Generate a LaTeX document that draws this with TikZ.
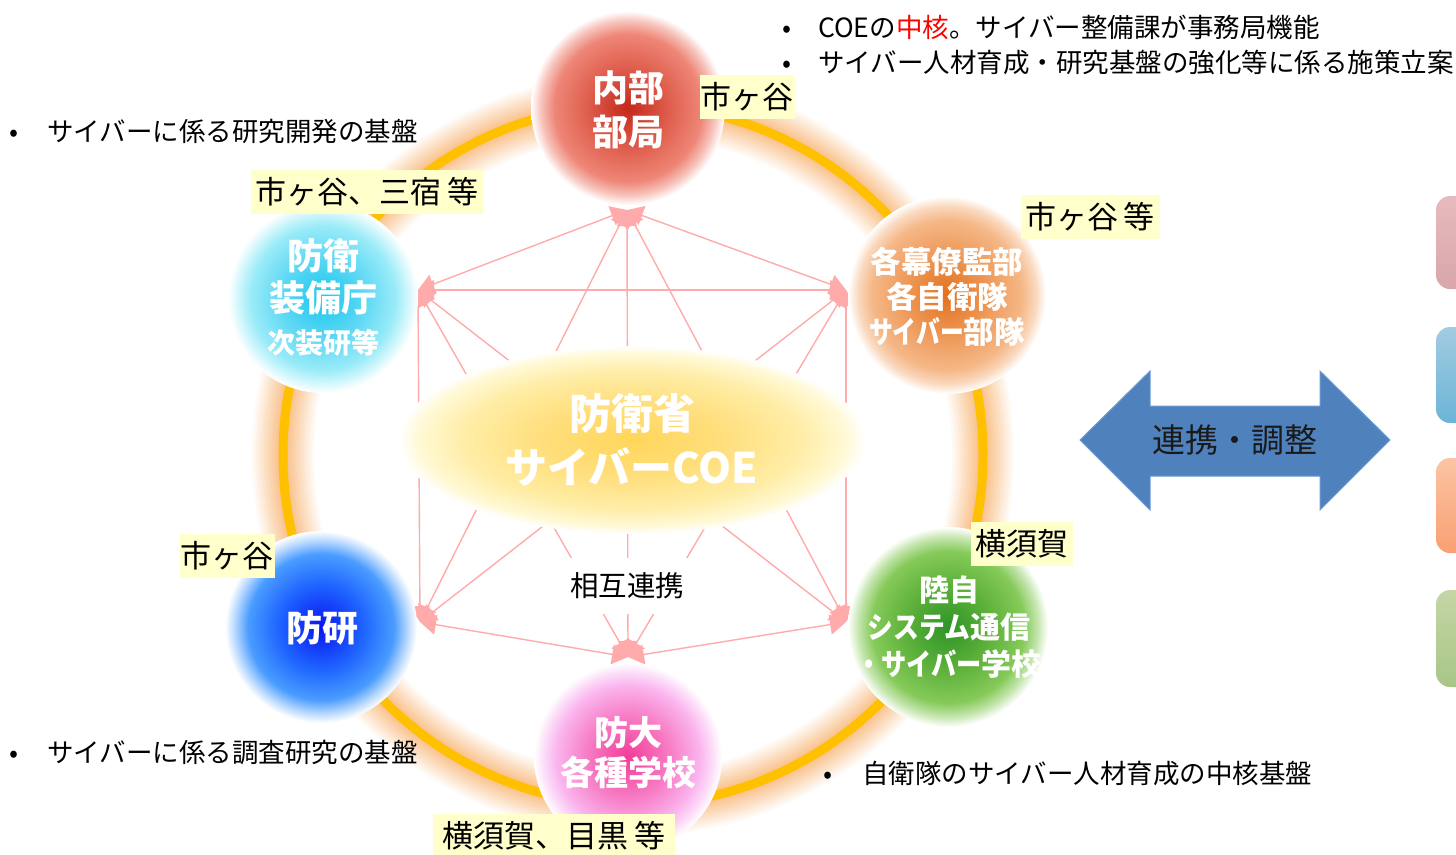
\documentclass[tikz,border=0pt]{standalone}
\usepackage{fontspec}
\usepackage{graphicx}
\setmainfont{Noto Sans CJK JP}
\usetikzlibrary{arrows.meta}
\definecolor{ringc}{HTML}{FFC000}
\definecolor{glow}{HTML}{F9C28C}
\definecolor{pinkln}{HTML}{FFABAB}
\definecolor{lblc}{HTML}{FFFFCC}
\definecolor{arrowblue}{HTML}{4F81BD}
\definecolor{arrowedge}{HTML}{6E9AD2}
\definecolor{txtdark}{HTML}{1A1A1A}
% balls
\definecolor{ra}{HTML}{C3281B}\definecolor{rb}{HTML}{E0604F}\definecolor{rc}{HTML}{EE8677}\definecolor{rd}{HTML}{F7C4BC}
\definecolor{ca}{HTML}{19C6EE}\definecolor{cb}{HTML}{5ED8F4}\definecolor{cc}{HTML}{9AEBF8}\definecolor{cd}{HTML}{D4F7FC}
\definecolor{oa}{HTML}{E2711D}\definecolor{ob}{HTML}{EE9A5A}\definecolor{oc}{HTML}{F5B888}\definecolor{od}{HTML}{FAD9BF}
\definecolor{ba}{HTML}{0A14F0}\definecolor{bb}{HTML}{1E64FF}\definecolor{bc}{HTML}{4A9CFF}\definecolor{bd}{HTML}{B8D8FF}
\definecolor{ga}{HTML}{2E9426}\definecolor{gb}{HTML}{5FB23C}\definecolor{gc}{HTML}{86CA5A}\definecolor{gd}{HTML}{C6E6B0}
\definecolor{pa}{HTML}{F23C98}\definecolor{pb}{HTML}{F77CC4}\definecolor{pc}{HTML}{FAB4EE}\definecolor{pd}{HTML}{FCDDF8}
\definecolor{ea}{HTML}{FFD65A}\definecolor{eb}{HTML}{FFDF7E}\definecolor{ec}{HTML}{FFEDA6}\definecolor{ed}{HTML}{FFF9D6}
% side boxes
\definecolor{s1t}{HTML}{E6BABE}\definecolor{s1b}{HTML}{D9A6AA}
\definecolor{s2t}{HTML}{A2CCE2}\definecolor{s2b}{HTML}{6CB4D6}
\definecolor{s3t}{HTML}{FCC4A4}\definecolor{s3b}{HTML}{F8A072}
\definecolor{s4t}{HTML}{C4D6A6}\definecolor{s4b}{HTML}{A8C686}
\newcommand\myball[5]{\pgfdeclareradialshading{#1}{\pgfpointorigin}{color(0bp)=(#2); color(11bp)=(#3); color(19bp)=(#4); color(22.5bp)=(#5); color(25bp)=(white); color(50bp)=(white)}}
\myball{redball}{ra}{rb}{rc}{rd}
\myball{cyanball}{ca}{cb}{cc}{cd}
\myball{orangeball}{oa}{ob}{oc}{od}
\myball{blueball}{ba}{bb}{bc}{bd}
\myball{greenball}{ga}{gb}{gc}{gd}
\myball{pinkball}{pa}{pb}{pc}{pd}
\pgfdeclareradialshading{ellshade}{\pgfpointorigin}{color(0bp)=(ea); color(10bp)=(eb); color(18bp)=(ec); color(23bp)=(ed); color(25bp)=(white); color(50bp)=(white)}
\newcommand\nk[2]{\scalebox{#1}[1]{#2}}
\begin{document}
\begin{tikzpicture}[x=1pt,y=-1pt,
  conn/.style={draw=pinkln, line width=1.4pt, {Triangle[length=16pt,width=20pt]}-{Triangle[length=16pt,width=20pt]}},
  ctext/.style={text=white, align=center, inner sep=0pt},
  lbl/.style={fill=lblc, inner xsep=1pt, inner ysep=6.5pt, text height=27.3pt, text depth=3.7pt, font=\fontsize{31}{36}\selectfont},
  btext/.style={inner sep=0pt, text height=23.3pt, text depth=3.2pt, font=\fontsize{26.5}{30}\selectfont, anchor=west},
  bdot/.style={inner sep=0pt, text height=23.3pt, text depth=3.2pt, font=\fontsize{26.5}{30}\selectfont}]
\useasboundingbox (0,0) rectangle (1456,854);
\fill[white] (0,0) rectangle (1456,854);

% glowing ring
\foreach \w in {66,62,...,10}{
  \pgfmathsetmacro\pc{100*(66-\w)/56}
  \draw[line width=\w pt, glow!\pc!white] (633,455) circle (350pt);
}
\draw[line width=9pt, ringc] (633,455) circle (350pt);

% side boxes (cut off at the right edge)
\begin{scope}
\clip (0,0) rectangle (1456,854);
\shade[top color=s1t, bottom color=s1b, rounded corners=14pt] (1436,196) rectangle (1500,289);
\shade[top color=s2t, bottom color=s2b, rounded corners=14pt] (1436,327) rectangle (1500,423);
\shade[top color=s3t, bottom color=s3b, rounded corners=14pt] (1436,458) rectangle (1500,553);
\shade[top color=s4t, bottom color=s4b, rounded corners=14pt] (1436,590) rectangle (1500,687);
\end{scope}

% connector end points
\coordinate (T) at (627,210);
\coordinate (UL) at (418,290);
\coordinate (UR) at (846,290);
\coordinate (LL) at (420,622);
\coordinate (LR) at (846,622);
\coordinate (B) at (628,657);

\draw[conn] (T) -- (UL);
\draw[conn] (T) -- (UR);
\draw[conn] (T) -- (LL);
\draw[conn] (T) -- (LR);
\draw[conn] (T) -- (B);
\draw[conn] (UL) -- (UR);
\draw[conn] (UL) -- (LL);
\draw[conn] (UL) -- (LR);
\draw[conn] (UL) -- (B);
\draw[conn] (UR) -- (LL);
\draw[conn] (UR) -- (LR);
\draw[conn] (UR) -- (B);
\draw[conn] (LL) -- (B);
\draw[conn] (LR) -- (B);

\node[fill=white, inner sep=0pt, minimum width=132pt, minimum height=56pt, text height=25pt, text depth=3.4pt, font=\fontsize{28.5}{32}\selectfont] (sogo) at (627,586) {相互連携};

% central ellipse
\shade[shading=ellshade] (632,440) ellipse [x radius=233pt, y radius=94pt];
\node[ctext, font=\fontsize{42}{54}\selectfont\bfseries] (coe) at (632,440) {防衛省\\サイバーCOE};

% balls
\shade[shading=redball] (628,108) circle (97pt);
\shade[shading=cyanball] (323,298) circle (95pt);
\shade[shading=orangeball] (947,295) circle (99pt);
\shade[shading=blueball] (321,627) circle (96pt);
\shade[shading=greenball] (948,627) circle (100pt);
\shade[shading=pinkball] (628,757) circle (94pt);

\node[ctext, font=\fontsize{36}{44}\selectfont\bfseries] (naibu) at (628,110) {内部\\部局};
\node[ctext, font=\fontsize{36}{42}\selectfont\bfseries] (sobi) at (323,298) {防衛\\装備庁\\{\fontsize{28}{34}\selectfont 次装研等}};
\node[ctext, font=\fontsize{30.5}{35}\selectfont\bfseries] (bakuryo) at (947,297) {各幕僚監部\\各自衛隊\\\nk{0.78}{サイバー}部隊};
\node[ctext, font=\fontsize{36}{44}\selectfont\bfseries] (boken) at (322,628) {防研};
\node[ctext, font=\fontsize{30}{37}\selectfont\bfseries] (rikuji) at (949,627) {陸自\\\nk{0.86}{システム}通信\\\nk{0.84}{・サイバー}学校};
\node[ctext, font=\fontsize{34}{40}\selectfont\bfseries] (bodai) at (628,753) {防大\\各種学校};

% location labels
\node[lbl, minimum width=93pt] (l1) at (747,97) {市ヶ谷};
\node[lbl, minimum width=232pt] (l2) at (367,192) {市ヶ谷、三宿\hspace{7pt}等};
\node[lbl, minimum width=139pt] (l3) at (1090,217) {市ヶ谷\hspace{6pt}等};
\node[lbl, minimum width=91pt] (l4) at (227,556) {市ヶ谷};
\node[lbl, minimum width=102pt] (l5) at (1022,544) {横須賀};
\node[lbl, minimum width=242pt] (l6) at (554,836) {横須賀、目黒\hspace{7pt}等};

% bullet texts
\node[bdot] (d1) at (787,27) {•};
\node[btext] (b1) at (818,27) {COEの\textcolor{red}{中核}。サイバー整備課が事務局機能};
\node[bdot] (d2) at (787,62) {•};
\node[btext] (b2) at (818,62) {サイバー人材育成・研究基盤の強化等に係る施策立案};
\node[bdot] (d3) at (14,131) {•};
\node[btext] (b3) at (47,131) {サイバーに係る研究開発の基盤};
\node[bdot] (d4) at (14,752) {•};
\node[btext] (b4) at (47,752) {サイバーに係る調査研究の基盤};
\node[bdot] (d5) at (828,773) {•};
\node[btext] (b5) at (862,773) {自衛隊のサイバー人材育成の中核基盤};

% double arrow
\draw[fill=arrowblue, draw=arrowedge, line width=1pt, line join=miter]
  (1080,440) -- (1150,371) -- (1150,406) -- (1320,406) -- (1320,371) -- (1390,440)
  -- (1320,510) -- (1320,476) -- (1150,476) -- (1150,510) -- cycle;
\node[inner sep=0pt, text=txtdark, text height=29pt, text depth=4pt, font=\fontsize{33}{38}\selectfont] (renkei) at (1235,440) {連携・調整};
\end{tikzpicture}
\end{document}
